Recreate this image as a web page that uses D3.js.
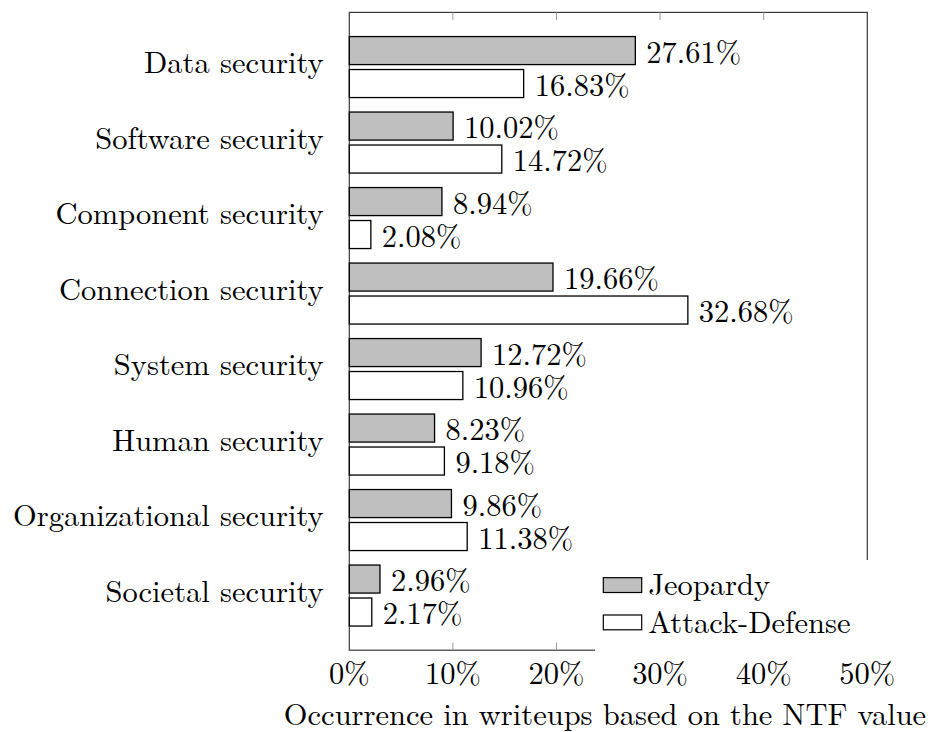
<!DOCTYPE html>
<html>
<head>
<meta charset="utf-8">
<script src="https://cdn.jsdelivr.net/npm/d3@7"></script>
<style>
	body { margin: 0; background: #fff; }
</style>
</head>
<body>
<div id="chart"></div>
<script>
const categories = [
	"Data security",
	"Software security",
	"Component security",
	"Connection security",
	"System security",
	"Human security",
	"Organizational security",
	"Societal security"
];
const series = ["Jeopardy", "Attack-Defense"];
const jeopardy = [27.61, 10.02, 8.94, 19.66, 12.72, 8.23, 9.86, 2.96];
const attackDefense = [16.83, 14.72, 2.08, 32.68, 10.96, 9.18, 11.38, 2.17];
const xTicks = [0, 10, 20, 30, 40, 50];
const xTitle = "Occurrence in writeups based on the NTF value";

const width = 938,
		height = 732,
		plot = { left: 349.3, right: 867.3, top: 12.4, bottom: 650.2 },
		fontSize = 30.5,
		fontFamily = "\"Latin Modern Roman\"",
		fills = { "Jeopardy": "#bfbfbf", "Attack-Defense": "#ffffff" };

const rows = categories.map((c, i) => ({
	category: c,
	values: [
		{ key: series[0], value: jeopardy[i] },
		{ key: series[1], value: attackDefense[i] }
	]
}));

const svg = d3.select("#chart")
	.append("svg")
		.attr("width", width)
		.attr("height", height);

// every label gets the same font settings
const label = (sel) => sel
	.attr("font-family", fontFamily)
	.attr("font-size", fontSize)
	.attr("fill", "#000");

const x = d3.scaleLinear()
	.domain([0, 50])
	.range([plot.left, plot.right]);

const y = d3.scalePoint()
	.domain(categories)
	.range([plot.top, plot.bottom])
	.padding(0.724);

const inner = d3.scaleBand()
	.domain(series)
	.range([-30.5, 30.5])
	.paddingInner(0.15);

// Frame
svg.append("rect")
	.attr("x", plot.left)
	.attr("y", plot.top)
	.attr("width", plot.right - plot.left)
	.attr("height", plot.bottom - plot.top)
	.attr("fill", "none")
	.attr("stroke", "#3a3a3a")
	.attr("stroke-width", 1.2);

// Inner ticks top and bottom
const innerTicks = xTicks.slice(1, -1);
[[plot.top, 1], [plot.bottom, -1]].forEach(([yy, dir]) => {
	svg.append("g")
		.selectAll("line")
			.data(innerTicks)
			.enter()
			.append("line")
				.attr("x1", (d) => x(d))
				.attr("x2", (d) => x(d))
				.attr("y1", yy)
				.attr("y2", yy + dir * 7.7)
				.attr("stroke", "#9a9a9a")
				.attr("stroke-width", 1);
});

// Bars
const groups = svg.append("g")
	.selectAll("g")
		.data(rows)
		.enter()
		.append("g")
			.attr("transform", (d) => `translate(0,${y(d.category)})`);

groups.selectAll("rect")
	.data((d) => d.values)
	.enter()
	.append("rect")
		.attr("x", x(0))
		.attr("y", (d) => inner(d.key))
		.attr("width", (d) => x(d.value) - x(0))
		.attr("height", inner.bandwidth())
		.attr("fill", (d) => fills[d.key])
		.attr("stroke", "#000")
		.attr("stroke-width", 1.3);

groups.selectAll("text.value")
	.data((d) => d.values)
	.enter()
	.append("text")
		.attr("class", "value")
		.attr("x", (d) => x(d.value) + 11)
		.attr("y", (d) => inner(d.key) + inner.bandwidth() / 2 + 12)
		.call(label)
		.text((d) => d.value.toFixed(2) + "%");

// Category labels
svg.append("g")
	.selectAll("text")
		.data(categories)
		.enter()
		.append("text")
			.attr("x", 323.5)
			.attr("y", (d) => y(d) + 6)
			.attr("text-anchor", "end")
			.call(label)
			.text((d) => d);

// X tick labels
svg.append("g")
	.selectAll("text")
		.data(xTicks)
		.enter()
		.append("text")
			.attr("x", (d) => x(d))
			.attr("y", 683.5)
			.attr("text-anchor", "middle")
			.call(label)
			.text((d) => d + "%");

svg.append("text")
	.attr("x", 605)
	.attr("y", 725)
	.attr("text-anchor", "middle")
	.call(label)
	.text(xTitle);

// Legend (white box covering the lower right corner of the frame)
const legend = svg.append("g");

legend.append("rect")
	.attr("x", 595)
	.attr("y", 560)
	.attr("width", plot.right - 595 + 1.5)
	.attr("height", plot.bottom - 560 + 1.5)
	.attr("fill", "#fff");

const legendItems = legend.selectAll("g")
	.data(series)
	.enter()
	.append("g")
		.attr("transform", (d, i) => `translate(603.3,${577.7 + i * 37.3})`);

legendItems.append("rect")
	.attr("width", 38.4)
	.attr("height", 14.8)
	.attr("fill", (d) => fills[d])
	.attr("stroke", "#000")
	.attr("stroke-width", 1.2);

legendItems.append("text")
	.attr("x", 45)
	.attr("y", 17.5)
	.call(label)
	.text((d) => d);
</script>
</body>
</html>
